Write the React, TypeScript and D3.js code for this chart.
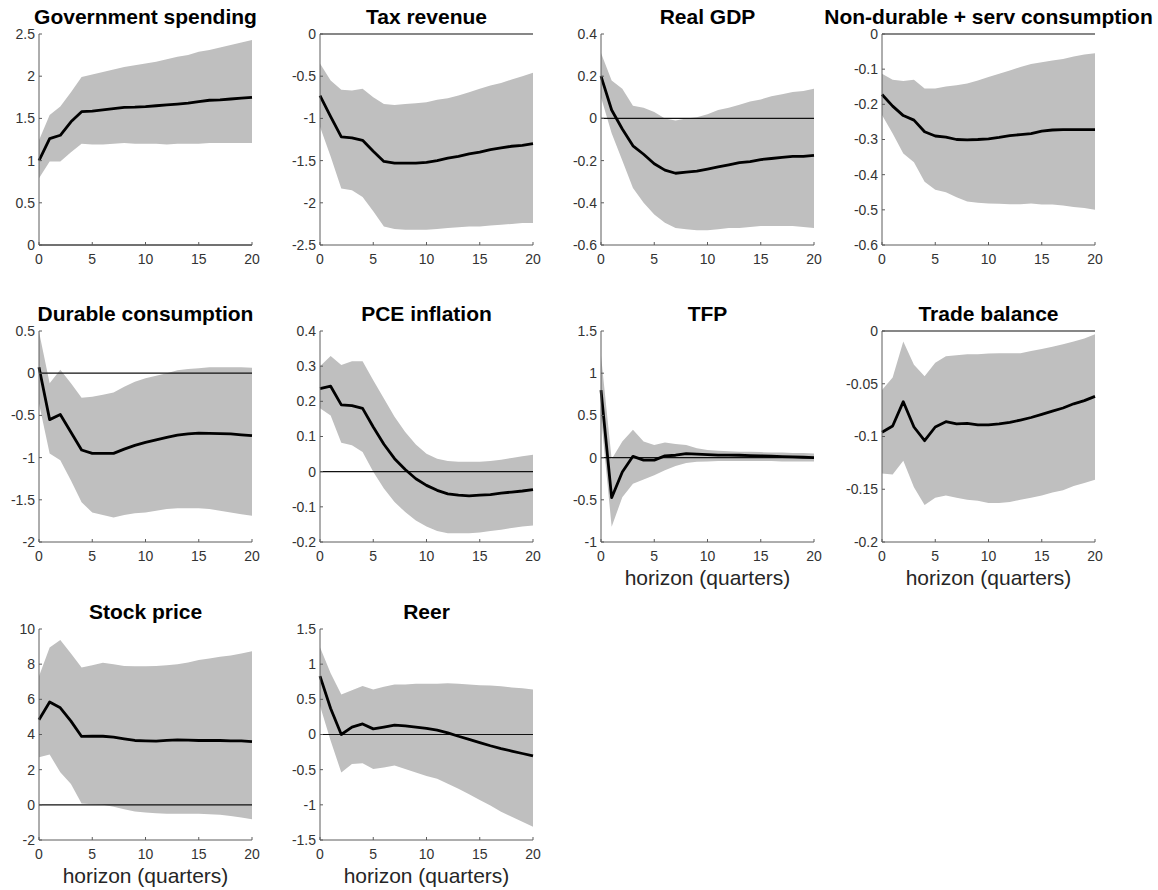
import React from "react";
import * as d3 from "d3";

const horizon = [0, 1, 2, 3, 4, 5, 6, 7, 8, 9, 10, 11, 12, 13, 14, 15, 16, 17, 18, 19, 20];

// Government spending
const govMean = [1.0, 1.26, 1.3, 1.46, 1.58, 1.585, 1.6, 1.617, 1.63, 1.633, 1.64, 1.65, 1.66, 1.67, 1.68, 1.7, 1.715, 1.72, 1.73, 1.74, 1.75];
const govHi = [1.24, 1.54, 1.64, 1.81, 1.99, 2.02, 2.05, 2.08, 2.11, 2.13, 2.15, 2.17, 2.2, 2.23, 2.25, 2.29, 2.31, 2.34, 2.37, 2.4, 2.43];
const govLo = [0.79, 0.99, 0.99, 1.1, 1.2, 1.19, 1.19, 1.2, 1.21, 1.2, 1.2, 1.2, 1.19, 1.2, 1.2, 1.2, 1.21, 1.21, 1.21, 1.21, 1.21];

// Tax revenue
const taxMean = [-0.73, -0.98, -1.22, -1.23, -1.26, -1.39, -1.51, -1.53, -1.53, -1.53, -1.52, -1.5, -1.47, -1.45, -1.42, -1.4, -1.37, -1.35, -1.33, -1.32, -1.3];
const taxHi = [-0.35, -0.55, -0.66, -0.67, -0.65, -0.75, -0.83, -0.84, -0.83, -0.82, -0.81, -0.78, -0.76, -0.73, -0.69, -0.65, -0.61, -0.58, -0.54, -0.5, -0.46];
const taxLo = [-1.1, -1.45, -1.83, -1.85, -1.93, -2.1, -2.28, -2.31, -2.32, -2.32, -2.32, -2.31, -2.3, -2.29, -2.28, -2.28, -2.27, -2.26, -2.25, -2.24, -2.24];

// Real GDP
const gdpMean = [0.2, 0.04, -0.05, -0.13, -0.17, -0.215, -0.245, -0.26, -0.255, -0.25, -0.24, -0.23, -0.22, -0.21, -0.205, -0.195, -0.19, -0.185, -0.18, -0.18, -0.175];
const gdpHi = [0.31, 0.18, 0.14, 0.06, 0.05, 0.03, 0.0, -0.01, 0.0, 0.005, 0.02, 0.04, 0.05, 0.065, 0.08, 0.09, 0.105, 0.115, 0.125, 0.13, 0.14];
const gdpLo = [0.1, -0.07, -0.2, -0.33, -0.4, -0.455, -0.495, -0.52, -0.525, -0.53, -0.53, -0.525, -0.52, -0.52, -0.515, -0.51, -0.51, -0.51, -0.51, -0.515, -0.52];

// Non-durable + serv consumption
const ndMean = [-0.172, -0.205, -0.232, -0.245, -0.278, -0.29, -0.293, -0.3, -0.301, -0.3, -0.298, -0.294, -0.289, -0.286, -0.283, -0.276, -0.273, -0.272, -0.272, -0.272, -0.272];
const ndHi = [-0.113, -0.13, -0.134, -0.13, -0.155, -0.155, -0.149, -0.146, -0.141, -0.132, -0.122, -0.113, -0.104, -0.094, -0.085, -0.08, -0.075, -0.071, -0.064, -0.058, -0.055];
const ndLo = [-0.23, -0.283, -0.34, -0.365, -0.42, -0.443, -0.45, -0.464, -0.476, -0.48, -0.482, -0.483, -0.484, -0.484, -0.482, -0.485, -0.485, -0.488, -0.492, -0.495, -0.5];

// Durable consumption
const durMean = [0.07, -0.55, -0.49, -0.7, -0.91, -0.95, -0.95, -0.95, -0.9, -0.855, -0.82, -0.79, -0.76, -0.735, -0.72, -0.71, -0.712, -0.715, -0.72, -0.73, -0.74];
const durHi = [0.49, -0.12, 0.04, -0.12, -0.29, -0.28, -0.255, -0.23, -0.16, -0.1, -0.06, -0.03, 0.0, 0.035, 0.05, 0.06, 0.07, 0.07, 0.07, 0.07, 0.065];
const durLo = [-0.36, -0.95, -1.03, -1.27, -1.53, -1.65, -1.68, -1.71, -1.68, -1.66, -1.65, -1.63, -1.61, -1.6, -1.6, -1.6, -1.61, -1.63, -1.65, -1.67, -1.69];

// PCE inflation
const pceMean = [0.236, 0.243, 0.19, 0.188, 0.18, 0.127, 0.078, 0.037, 0.006, -0.02, -0.039, -0.053, -0.063, -0.067, -0.069, -0.067, -0.065, -0.061, -0.058, -0.055, -0.051];
const pceHi = [0.3, 0.329, 0.303, 0.314, 0.314, 0.26, 0.208, 0.156, 0.113, 0.077, 0.051, 0.037, 0.03, 0.028, 0.028, 0.028, 0.03, 0.034, 0.039, 0.044, 0.048];
const pceLo = [0.18, 0.16, 0.082, 0.075, 0.056, 0.0, -0.048, -0.086, -0.115, -0.139, -0.156, -0.169, -0.175, -0.175, -0.175, -0.173, -0.169, -0.165, -0.16, -0.156, -0.153];

// TFP
const tfpMean = [0.8, -0.475, -0.17, 0.015, -0.03, -0.03, 0.02, 0.028, 0.047, 0.04, 0.035, 0.03, 0.03, 0.028, 0.024, 0.02, 0.016, 0.012, 0.008, 0.004, 0.0];
const tfpHi = [1.21, -0.02, 0.19, 0.33, 0.19, 0.15, 0.18, 0.16, 0.15, 0.11, 0.09, 0.08, 0.075, 0.07, 0.068, 0.065, 0.06, 0.06, 0.055, 0.055, 0.05];
const tfpLo = [0.48, -0.82, -0.47, -0.31, -0.26, -0.21, -0.15, -0.1, -0.065, -0.05, -0.045, -0.04, -0.04, -0.04, -0.04, -0.04, -0.04, -0.045, -0.045, -0.045, -0.045];

// Trade balance
const tbMean = [-0.096, -0.09, -0.067, -0.091, -0.104, -0.091, -0.086, -0.088, -0.0875, -0.089, -0.089, -0.088, -0.0866, -0.0844, -0.082, -0.079, -0.076, -0.073, -0.069, -0.066, -0.062];
const tbHi = [-0.056, -0.044, -0.01, -0.032, -0.043, -0.03, -0.024, -0.023, -0.022, -0.022, -0.0214, -0.021, -0.021, -0.021, -0.019, -0.017, -0.015, -0.0126, -0.01, -0.007, -0.003];
const tbLo = [-0.135, -0.136, -0.123, -0.148, -0.165, -0.158, -0.156, -0.158, -0.16, -0.161, -0.163, -0.163, -0.162, -0.16, -0.158, -0.156, -0.153, -0.151, -0.147, -0.144, -0.141];

// Stock price
const spMean = [4.84, 5.85, 5.52, 4.76, 3.89, 3.9, 3.9, 3.85, 3.75, 3.66, 3.64, 3.62, 3.66, 3.7, 3.68, 3.66, 3.66, 3.66, 3.64, 3.64, 3.6];
const spHi = [7.31, 8.95, 9.37, 8.6, 7.81, 7.94, 8.08, 8.0, 7.9, 7.88, 7.88, 7.9, 7.94, 8.0, 8.1, 8.23, 8.32, 8.42, 8.5, 8.6, 8.74];
const spLo = [2.7, 2.86, 1.85, 1.18, 0.08, 0.04, 0.0, -0.11, -0.25, -0.38, -0.44, -0.48, -0.5, -0.5, -0.5, -0.5, -0.53, -0.57, -0.63, -0.72, -0.82];

// Reer
const reerMean = [0.83, 0.37, 0.0, 0.105, 0.15, 0.08, 0.105, 0.133, 0.124, 0.105, 0.086, 0.062, 0.024, -0.025, -0.07, -0.115, -0.16, -0.2, -0.235, -0.27, -0.305];
const reerHi = [1.24, 0.87, 0.57, 0.63, 0.69, 0.64, 0.68, 0.71, 0.71, 0.72, 0.72, 0.72, 0.73, 0.72, 0.71, 0.7, 0.695, 0.686, 0.67, 0.657, 0.64];
const reerLo = [0.41, -0.09, -0.54, -0.42, -0.41, -0.49, -0.47, -0.44, -0.49, -0.54, -0.59, -0.63, -0.7, -0.77, -0.85, -0.93, -1.01, -1.1, -1.17, -1.24, -1.31];

const titles = [
  "Government spending", "Tax revenue", "Real GDP", "Non-durable + serv consumption",
  "Durable consumption", "PCE inflation", "TFP", "Trade balance",
  "Stock price", "Reer",
];
const yTicksList = [
  [0, 0.5, 1, 1.5, 2, 2.5],
  [-2.5, -2, -1.5, -1, -0.5, 0],
  [-0.6, -0.4, -0.2, 0, 0.2, 0.4],
  [-0.6, -0.5, -0.4, -0.3, -0.2, -0.1, 0],
  [-2, -1.5, -1, -0.5, 0, 0.5],
  [-0.2, -0.1, 0, 0.1, 0.2, 0.3, 0.4],
  [-1, -0.5, 0, 0.5, 1, 1.5],
  [-0.2, -0.15, -0.1, -0.05, 0],
  [-2, 0, 2, 4, 6, 8, 10],
  [-1.5, -1, -0.5, 0, 0.5, 1, 1.5],
];
const xTicks = [0, 5, 10, 15, 20];
const means = [govMean, taxMean, gdpMean, ndMean, durMean, pceMean, tfpMean, tbMean, spMean, reerMean];
const his = [govHi, taxHi, gdpHi, ndHi, durHi, pceHi, tfpHi, tbHi, spHi, reerHi];
const los = [govLo, taxLo, gdpLo, ndLo, durLo, pceLo, tfpLo, tbLo, spLo, reerLo];
const xLabelShown = [false, false, false, false, false, false, true, true, true, true];
const xLabelText = "horizon (quarters)";

const COL_X = [39, 320, 601, 882];
const ROW_Y = [34, 331, 629];
const PW = 213;
const PH = 211;

const FONT = "'Liberation Sans', Arial, Helvetica, sans-serif";
const AXIS_COLOR = "#5c5c5c";

function Panel({ idx }: { idx: number }) {
  const col = idx % 4;
  const row = Math.floor(idx / 4);
  const x0 = COL_X[col];
  const y0 = ROW_Y[row];
  const yt = yTicksList[idx];
  const x = d3.scaleLinear().domain([0, 20]).range([0, PW]);
  const y = d3.scaleLinear().domain([yt[0], yt[yt.length - 1]]).range([PH, 0]);
  const mean = means[idx];
  const hi = his[idx];
  const lo = los[idx];
  const area = d3
    .area<number>()
    .x((d) => x(d))
    .y0((d, i) => y(lo[i]))
    .y1((d, i) => y(hi[i]));
  const line = d3
    .line<number>()
    .x((d) => x(d))
    .y((d, i) => y(mean[i]));
  const fmt = (v: number) => String(+v.toFixed(3));
  return (
    <g transform={`translate(${x0},${y0})`}>
      <path d={area(horizon) || ""} fill="#bfbfbf" stroke="none" />
      <line x1={0} x2={PW} y1={y(0)} y2={y(0)} stroke="#111" strokeWidth={1.2} />
      <path d={line(horizon) || ""} fill="none" stroke="#000" strokeWidth={2.8} strokeLinejoin="round" />
      {/* axes */}
      <line x1={0} x2={0} y1={0} y2={PH} stroke={AXIS_COLOR} strokeWidth={1} />
      <line x1={0} x2={PW} y1={PH} y2={PH} stroke={AXIS_COLOR} strokeWidth={1} />
      {yt.map((t) => (
        <g key={"y" + t}>
          <line x1={0} x2={3} y1={y(t)} y2={y(t)} stroke={AXIS_COLOR} />
          <text
            x={-4}
            y={y(t)}
            dy="0.35em"
            textAnchor="end"
            fontSize={14}
            fill="#333"
            fontFamily={FONT}
          >
            {fmt(t)}
          </text>
        </g>
      ))}
      {xTicks.map((t) => (
        <g key={"x" + t}>
          <line x1={x(t)} x2={x(t)} y1={PH} y2={PH - 3} stroke={AXIS_COLOR} />
          <text
            x={x(t)}
            y={PH + 19}
            textAnchor="middle"
            fontSize={14}
            fill="#333"
            fontFamily={FONT}
          >
            {t}
          </text>
        </g>
      ))}
      <text
        x={PW / 2}
        y={-10}
        textAnchor="middle"
        fontSize={21}
        fontWeight="bold"
        fill="#000"
        fontFamily={FONT}
      >
        {titles[idx]}
      </text>
      {xLabelShown[idx] && (
        <text
          x={PW / 2}
          y={PH + 43}
          textAnchor="middle"
          fontSize={21}
          fill="#262626"
          fontFamily={FONT}
        >
          {xLabelText}
        </text>
      )}
    </g>
  );
}

export default function App() {
  return (
    <svg
      width={1158}
      height={890}
      style={{ position: "absolute", left: 0, top: 0, background: "#fff" }}
    >
      <rect width={1158} height={890} fill="#fff" />
      {titles.map((t, i) => (
        <Panel key={t} idx={i} />
      ))}
    </svg>
  );
}
